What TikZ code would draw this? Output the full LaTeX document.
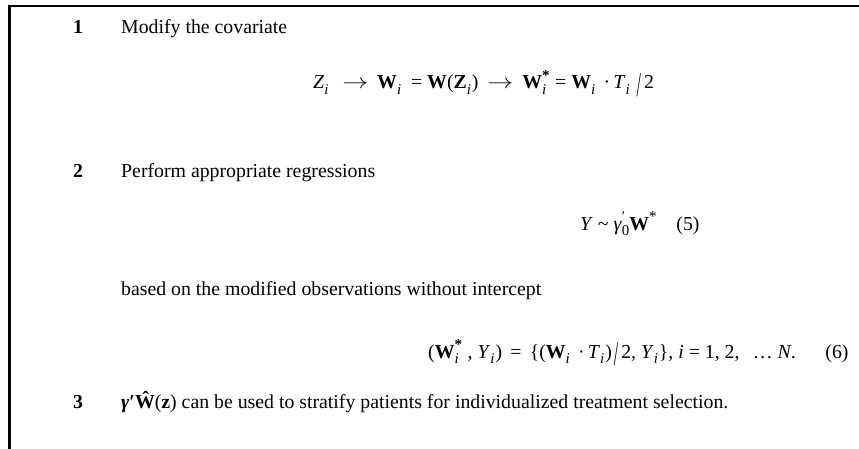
\documentclass[tikz,border=0pt]{standalone}
\usepackage{fontspec}
\usepackage{graphicx}
\setmainfont{Liberation Serif}
\newcommand{\lo}[1]{\raisebox{-0.3em}{\fontsize{15}{15}\selectfont #1}}
\newcommand{\hi}[1]{\raisebox{0.45em}{\fontsize{15}{15}\selectfont #1}}
\newcommand{\li}{\lo{\textit{i}}\kern0.25em}
\newcommand{\lic}{\lo{\textit{i}}\kern0.05em}
\newcommand{\bW}{\textbf{W}}
\newcommand{\Wst}{\bW\rlap{\hi{\textbf{*}}}\lo{\textit{i}}\kern0.45em}
\newcommand{\tslash}{\kern0.1em\raisebox{-0.4em}{\scalebox{0.8}[1.75]{/}}\kern0.15em}
\newcommand{\fl}{\kern0.2em\scalebox{1.25}[1]{$\rightarrow$}\kern0.2em}

\begin{document}
\begin{tikzpicture}[x=1pt, y=-1pt, font=\fontsize{19.8}{24}\selectfont,
    num/.style={anchor=base west, inner sep=0pt, font=\fontsize{19.8}{24}\selectfont\bfseries},
    txt/.style={anchor=base west, inner sep=0pt},
    cadre/.style={line width=2.6pt, black}]
  \useasboundingbox (0,0) rectangle (859,449);
  \draw[cadre] (9.5,449) -- (9.5,6) -- (859,6);
  % step 1
  \node[num] (n1) at (73,34) {1};
  \node[txt] (t1) at (121,34) {Modify the covariate};
  \node[txt] (eq1) at (313,89)
    {\textit{Z}\li\ \fl\ \bW\li\ = \bW(\textbf{Z}\lic) \fl\ \Wst = \bW\li\,·\,\textit{T}\li\tslash 2};
  % step 2
  \node[num] (n2) at (73,178) {2};
  \node[txt] (t2) at (121,178) {Perform appropriate regressions};
  \node[txt] (eq5) at (580,230)
    {\textit{Y} \textasciitilde\ \textit{γ}\rlap{\hi{′}}\lo{0}\bW\hi{*}\quad (5)};
  \node[txt] (t3) at (121,295) {based on the modified observations without intercept};
  \node[txt] (eq6) at (428,358)
    {(\Wst, \textit{Y}\lic) \,=\, \{(\bW\li\,·\,\textit{T}\lic)\tslash 2, \textit{Y}\lic\}, \textit{i} = 1, 2,\ \ \,… \textit{N}.\quad\ \ (6)};
  % step 3
  \node[num] (n3) at (73,408) {3};
  \node[txt] (t4) at (121,408)
    {\textbf{\textit{γ}′\^{W}}(\textbf{z}) can be used to stratify patients for individualized treatment selection.};
\end{tikzpicture}
\end{document}
